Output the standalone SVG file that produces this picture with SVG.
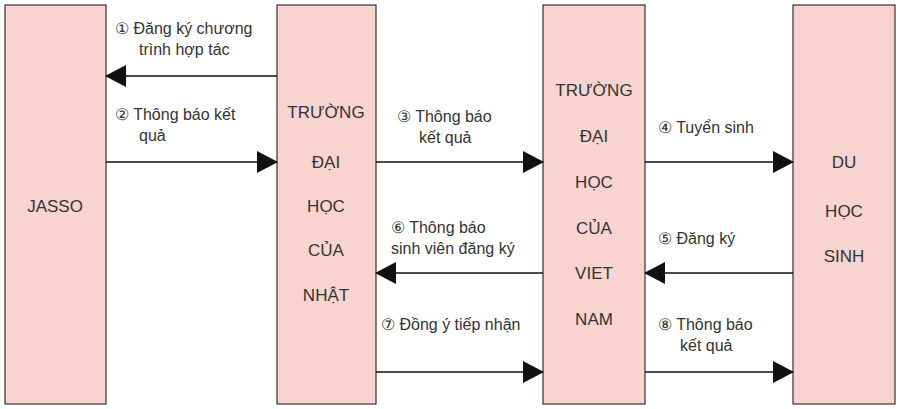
<svg xmlns="http://www.w3.org/2000/svg" width="900" height="409" viewBox="0 0 900 409">
<style>
.box{fill:#f8d3cf;stroke:#333;stroke-width:1.2}
.t{font-family:"Liberation Sans",Arial,sans-serif;font-size:16px;fill:#333}
.c{text-anchor:middle;font-size:17px}
.ln{stroke:#111;stroke-width:1.5;fill:none;marker-end:url(#ah)}
</style>
<defs><marker id="ah" markerUnits="userSpaceOnUse" markerWidth="22" markerHeight="22" refX="20" refY="11" orient="auto"><path d="M0,0L21,11L0,22z" fill="#111"/></marker></defs>
<rect width="900" height="409" fill="#fff"/>
<g id="jasso"><rect class="box" x="5" y="5" width="101" height="399"/><text class="t c" x="55" y="212">JASSO</text></g>
<g id="japan"><rect class="box" x="277" y="5" width="99" height="399"/>
<text class="t c" x="326" y="118">TRƯỜNG</text><text class="t c" x="326" y="168">ĐẠI</text><text class="t c" x="326" y="212">HỌC</text><text class="t c" x="326" y="256">CỦA</text><text class="t c" x="326" y="301">NHẬT</text></g>
<g id="vietnam"><rect class="box" x="543" y="5" width="102" height="399"/>
<text class="t c" x="594" y="96">TRƯỜNG</text><text class="t c" x="594" y="142">ĐẠI</text><text class="t c" x="594" y="188">HỌC</text><text class="t c" x="594" y="234">CỦA</text><text class="t c" x="594" y="279">VIET</text><text class="t c" x="594" y="325">NAM</text></g>
<g id="student"><rect class="box" x="793" y="5" width="102" height="399"/>
<text class="t c" x="844" y="168">DU</text><text class="t c" x="844" y="217">HỌC</text><text class="t c" x="844" y="262">SINH</text></g>
<g id="connectors">
<line class="ln" x1="277" y1="76" x2="106" y2="76"/>
<line class="ln" x1="106" y1="162" x2="277" y2="162"/>
<line class="ln" x1="376" y1="162" x2="543" y2="162"/>
<line class="ln" x1="645" y1="162" x2="793" y2="162"/>
<line class="ln" x1="543" y1="273" x2="376" y2="273"/>
<line class="ln" x1="793" y1="273" x2="645" y2="273"/>
<line class="ln" x1="376" y1="372" x2="543" y2="372"/>
<line class="ln" x1="645" y1="372" x2="793" y2="372"/>
</g>
<g id="labels">
<text class="t" x="115" y="34">① Đăng ký chương</text><text class="t" x="139" y="55">trình hợp tác</text>
<text class="t" x="115" y="120">② Thông báo kết</text><text class="t" x="139" y="141">quả</text>
<text class="t" x="397" y="122">③ Thông báo</text><text class="t" x="419" y="143">kết quả</text>
<text class="t" x="658" y="133">④ Tuyển sinh</text>
<text class="t" x="391" y="233">⑥ Thông báo</text><text class="t" x="391" y="254">sinh viên đăng ký</text>
<text class="t" x="658" y="244">⑤ Đăng ký</text>
<text class="t" x="381" y="330">⑦ Đồng ý tiếp nhận</text>
<text class="t" x="658" y="330">⑧ Thông báo</text><text class="t" x="680" y="351">kết quả</text>
</g>
</svg>
